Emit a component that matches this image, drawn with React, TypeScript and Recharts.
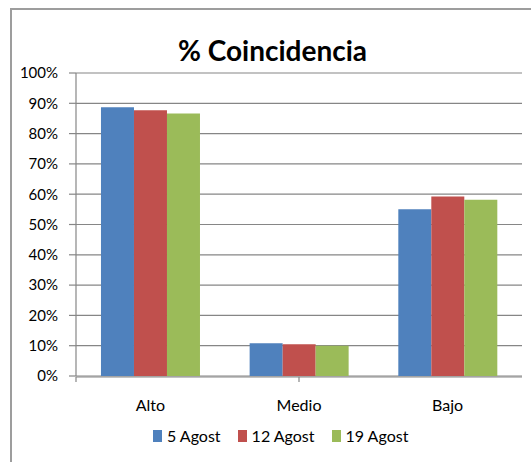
import React from 'react';
import { BarChart, Bar, XAxis, YAxis, CartesianGrid, Legend } from 'recharts';

const categories = ['Alto', 'Medio', 'Bajo'];
const agost5 = [0.887, 0.108, 0.55];
const agost12 = [0.877, 0.105, 0.592];
const agost19 = [0.866, 0.1, 0.582];
const seriesNames = ['5 Agost', '12 Agost', '19 Agost'];
const seriesKeys = ['a5', 'a12', 'a19'];
const seriesColors = ['#4f81bd', '#c0504d', '#9bbb59'];
const yTicks = [0, 0.1, 0.2, 0.3, 0.4, 0.5, 0.6, 0.7, 0.8, 0.9, 1];
const edgeTicks = [0, 1, 2, 3];
const title = '% Coincidencia';

const data = categories.map((name, i) => ({
  name,
  a5: agost5[i],
  a12: agost12[i],
  a19: agost19[i],
}));

const FONT = 'Lato, "Open Sans", sans-serif';
const AXIS = '#868686';

const LegendContent = () => (
  <div style={{ display: 'flex', alignItems: 'center', fontFamily: FONT, fontSize: 16, color: '#000', whiteSpace: 'nowrap' }}>
    {seriesNames.map((n, i) => (
      <div key={n} style={{ display: 'flex', alignItems: 'center', marginRight: 17 }}>
        <span style={{ display: 'inline-block', width: 9, height: 12, background: seriesColors[i], marginRight: 5 }} />
        <span>{n}</span>
      </div>
    ))}
  </div>
);

export default function App() {
  return (
    <div style={{ position: 'absolute', left: 0, top: 0, width: 531, height: 462, overflow: 'hidden', background: '#fff' }}>
      <div style={{ position: 'absolute', left: 10, top: 8, width: 700, height: 700, borderLeft: '2px solid #9d9d9d', borderTop: '2px solid #9d9d9d' }} />
      <div style={{ position: 'absolute', left: 0, top: 33, width: 545, textAlign: 'center', fontFamily: FONT, fontWeight: 700, fontSize: 28, color: '#000', lineHeight: 'normal' }}>
        {title}
      </div>
      <div style={{ position: 'absolute', left: 0, top: 0 }}>
        <BarChart
          width={531}
          height={462}
          data={data}
          margin={{ top: 73, right: 9, bottom: 84, left: 0 }}
          barGap={0}
          barCategoryGap="16.8%"
        >
          <CartesianGrid vertical={false} stroke={AXIS} strokeWidth={1.2} />
          <XAxis
            xAxisId="edges"
            type="number"
            domain={[0, 3]}
            ticks={edgeTicks}
            tick={() => <g />}
            height={1}
            tickSize={5}
            axisLine={{ stroke: AXIS, strokeWidth: 1.2 }}
            tickLine={{ stroke: AXIS, strokeWidth: 1.2 }}
          />
          <XAxis
            dataKey="name"
            height={1}
            axisLine={false}
            tickLine={false}
            tickSize={0}
            tickMargin={24}
            tick={{ fill: '#000', fontSize: 16, fontFamily: FONT }}
          />
          <YAxis
            type="number"
            domain={[0, 1]}
            ticks={yTicks}
            width={76}
            tickSize={7}
            tickMargin={11}
            tickFormatter={(v: number) => `${Math.round(v * 100)}%`}
            axisLine={{ stroke: AXIS, strokeWidth: 1.2 }}
            tickLine={{ stroke: AXIS, strokeWidth: 1.2 }}
            tick={{ fill: '#000', fontSize: 15, fontFamily: FONT }}
          />
          {seriesKeys.map((k, i) => (
            <Bar key={k} dataKey={k} name={seriesNames[i]} fill={seriesColors[i]} isAnimationActive={false} />
          ))}
          <Legend
            content={<LegendContent />}
            wrapperStyle={{ position: 'absolute', left: 153, top: 426, bottom: 'auto', width: 'auto', height: 0 }}
          />
        </BarChart>
      </div>
    </div>
  );
}
